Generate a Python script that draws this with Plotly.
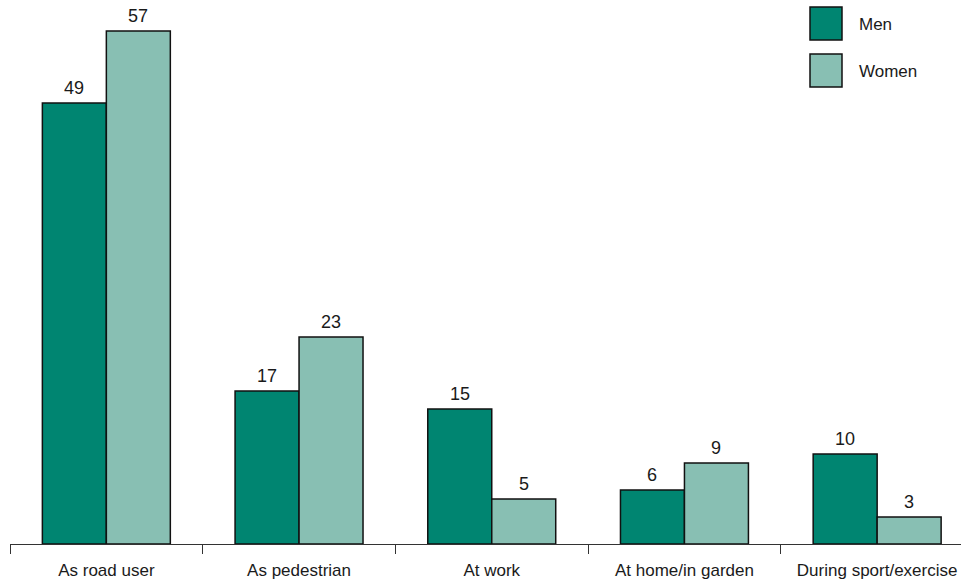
import plotly.graph_objects as go

categories = ["As road user", "As pedestrian", "At work", "At home/in garden", "During sport/exercise"]
men = [49, 17, 15, 6, 10]
women = [57, 23, 5, 9, 3]
series_names = ["Men", "Women"]

MEN_COLOR = "#008571"
WOMEN_COLOR = "#88bfb3"
FONT = "Liberation Sans, Arial, sans-serif"
TEXT_COLOR = "#1a1a1a"

W, H = 961, 583
ML, MR, MT, MB = 10, 0, 0, 39
plot_w = W - ML - MR
plot_h = H - MT - MB
cat_px = 192.7  # width of one category slot in pixels

fig = go.Figure()
for name, vals, col in [(series_names[0], men, MEN_COLOR), (series_names[1], women, WOMEN_COLOR)]:
    fig.add_trace(go.Bar(
        x=categories, y=vals, name=name,
        marker=dict(color=col, line=dict(color="#111111", width=1.5)),
        showlegend=False,
    ))

# value labels above each bar
half = 64 / 2
for vals, shift in [(men, -half), (women, half)]:
    for c, v in zip(categories, vals):
        fig.add_annotation(
            x=c, y=v, text=str(v), showarrow=False,
            xshift=shift, yshift=3, yanchor="bottom",
            font=dict(family=FONT, size=18, color=TEXT_COLOR),
        )

# legend drawn as boxes + labels
def px_x(p):
    return (p - ML) / plot_w

def px_y(p):
    return (H - MB - p) / plot_h

for i, (name, col) in enumerate([(series_names[0], MEN_COLOR), (series_names[1], WOMEN_COLOR)]):
    top = 7 + i * 47
    fig.add_shape(
        type="rect", xref="paper", yref="paper",
        x0=px_x(810), x1=px_x(842), y0=px_y(top + 33), y1=px_y(top),
        fillcolor=col, line=dict(color="#111111", width=1.5),
    )
    fig.add_annotation(
        xref="paper", yref="paper", x=px_x(857), y=px_y(top + 18),
        text=name, showarrow=False, xanchor="left", yanchor="middle",
        font=dict(family=FONT, size=17, color=TEXT_COLOR),
    )

fig.update_layout(
    width=W, height=H,
    margin=dict(l=ML, r=MR, t=MT, b=MB, pad=0),
    plot_bgcolor="white", paper_bgcolor="white",
    barmode="group", bargap=0.336, bargroupgap=0,
    font=dict(family=FONT, size=17, color=TEXT_COLOR),
    xaxis=dict(
        type="category",
        range=[-0.5, -0.5 + plot_w / cat_px],
        showline=True, linecolor="#333333", linewidth=1.2,
        ticks="outside", tickson="boundaries", ticklen=9,
        tickcolor="#333333", tickwidth=1.2,
        ticklabelstandoff=10,
        showgrid=False, zeroline=False,
        tickfont=dict(family=FONT, size=17, color=TEXT_COLOR),
    ),
    yaxis=dict(
        range=[0, plot_h / 9.0],
        visible=False, showgrid=False, zeroline=False,
    ),
)

fig.write_html("out.html")
